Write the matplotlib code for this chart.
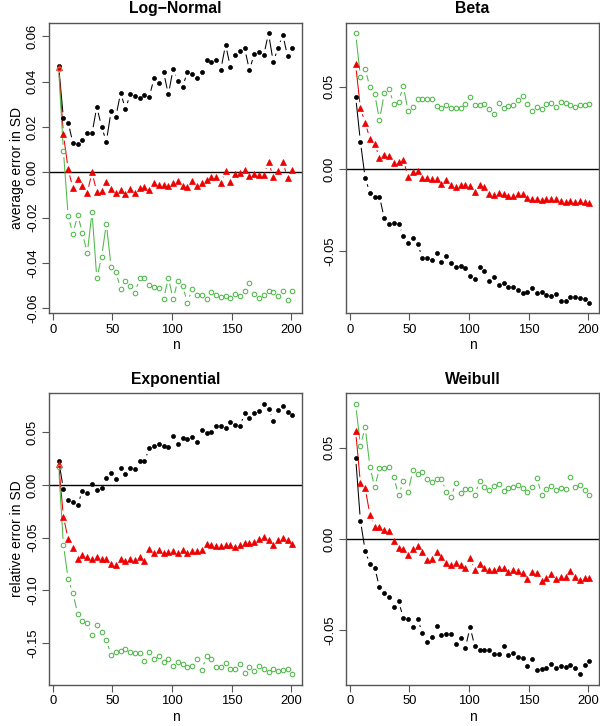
import numpy as np
import matplotlib
matplotlib.use("Agg")
import matplotlib.pyplot as plt

n = list(range(5, 202, 4))

titles = ["Log\u2212Normal", "Beta", "Exponential", "Weibull"]

ln_black = [0.0468, 0.0238, 0.0219, 0.0128, 0.0125, 0.0142, 0.0172, 0.0172, 0.0289, 0.0201,
            0.0135, 0.0270, 0.0245, 0.0351, 0.0279, 0.0343, 0.0337, 0.0329, 0.0340, 0.0333,
            0.0414, 0.0392, 0.0442, 0.0343, 0.0455, 0.0402, 0.0377, 0.0443, 0.0433, 0.0417,
            0.0442, 0.0494, 0.0487, 0.0494, 0.0452, 0.0563, 0.0465, 0.0516, 0.0536, 0.0546,
            0.0450, 0.0521, 0.0531, 0.0516, 0.0612, 0.0487, 0.0549, 0.0606, 0.0512, 0.0546]
ln_red = [0.0465, 0.0167, 0.0013, -0.0070, -0.0029, -0.0060, -0.0090, 0.0000, -0.0087, -0.0084,
          -0.0044, -0.0072, -0.0092, -0.0079, -0.0097, -0.0075, -0.0092, -0.0067, -0.0063, -0.0079,
          -0.0045, -0.0057, -0.0057, -0.0059, -0.0048, -0.0038, -0.0060, -0.0063, -0.0038, -0.0059,
          -0.0045, -0.0032, -0.0019, -0.0019, -0.0048, 0.0006, -0.0041, -0.0007, -0.0004, 0.0010,
          -0.0016, -0.0007, -0.0010, -0.0010, 0.0044, -0.0019, 0.0006, 0.0044, -0.0023, 0.0010]
ln_green = [0.0455, 0.0094, -0.0194, -0.0271, -0.0188, -0.0269, -0.0357, -0.0175, -0.0467, -0.0373,
            -0.0227, -0.0417, -0.0439, -0.0514, -0.0478, -0.0499, -0.0531, -0.0467, -0.0467, -0.0496,
            -0.0506, -0.0512, -0.0559, -0.0464, -0.0559, -0.0477, -0.0500, -0.0574, -0.0514, -0.0539,
            -0.0539, -0.0559, -0.0528, -0.0539, -0.0550, -0.0547, -0.0552, -0.0536, -0.0543, -0.0525,
            -0.0489, -0.0536, -0.0556, -0.0541, -0.0525, -0.0528, -0.0543, -0.0521, -0.0564, -0.0522]

be_black = [0.0440, 0.0166, -0.0057, -0.0144, -0.0168, -0.0168, -0.0300, -0.0335, -0.0331, -0.0335,
            -0.0408, -0.0448, -0.0418, -0.0458, -0.0540, -0.0540, -0.0554, -0.0509, -0.0564, -0.0529,
            -0.0570, -0.0596, -0.0588, -0.0602, -0.0651, -0.0669, -0.0598, -0.0623, -0.0679, -0.0655,
            -0.0706, -0.0692, -0.0716, -0.0720, -0.0736, -0.0756, -0.0750, -0.0722, -0.0756, -0.0746,
            -0.0769, -0.0771, -0.0758, -0.0801, -0.0803, -0.0777, -0.0777, -0.0783, -0.0791, -0.0813]
be_red = [0.0637, 0.0369, 0.0282, 0.0183, 0.0150, 0.0069, 0.0085, 0.0081, 0.0039, 0.0043,
          0.0053, -0.0047, -0.0016, -0.0012, -0.0057, -0.0055, -0.0061, -0.0061, -0.0093, -0.0067,
          -0.0097, -0.0110, -0.0099, -0.0099, -0.0101, -0.0138, -0.0099, -0.0110, -0.0154, -0.0156,
          -0.0144, -0.0154, -0.0162, -0.0162, -0.0154, -0.0150, -0.0176, -0.0183, -0.0185, -0.0189,
          -0.0185, -0.0183, -0.0185, -0.0193, -0.0199, -0.0193, -0.0199, -0.0195, -0.0199, -0.0209]
be_green = [0.0825, 0.0562, 0.0608, 0.0497, 0.0456, 0.0298, 0.0460, 0.0485, 0.0395, 0.0410,
            0.0505, 0.0351, 0.0377, 0.0426, 0.0424, 0.0424, 0.0424, 0.0383, 0.0373, 0.0387,
            0.0369, 0.0373, 0.0373, 0.0393, 0.0436, 0.0387, 0.0389, 0.0395, 0.0363, 0.0333,
            0.0400, 0.0373, 0.0383, 0.0387, 0.0420, 0.0446, 0.0395, 0.0355, 0.0379, 0.0363,
            0.0395, 0.0400, 0.0379, 0.0410, 0.0400, 0.0387, 0.0375, 0.0389, 0.0389, 0.0393]

ex_black = [0.0231, -0.0038, -0.0146, -0.0165, -0.0187, -0.0054, -0.0073, 0.0006, -0.0051, -0.0028,
            0.0066, 0.0111, 0.0057, 0.0158, 0.0104, 0.0158, 0.0152, 0.0225, 0.0225, 0.0348,
            0.0370, 0.0386, 0.0370, 0.0358, 0.0459, 0.0383, 0.0449, 0.0437, 0.0453, 0.0411,
            0.0522, 0.0491, 0.0506, 0.0557, 0.0557, 0.0544, 0.0601, 0.0570, 0.0554, 0.0680,
            0.0636, 0.0680, 0.0696, 0.0766, 0.0722, 0.0608, 0.0706, 0.0744, 0.0690, 0.0665]
ex_red = [0.0199, -0.0301, -0.0516, -0.0595, -0.0706, -0.0665, -0.0687, -0.0706, -0.0680, -0.0706,
          -0.0699, -0.0747, -0.0756, -0.0699, -0.0718, -0.0706, -0.0712, -0.0680, -0.0722, -0.0611,
          -0.0642, -0.0617, -0.0649, -0.0639, -0.0630, -0.0649, -0.0620, -0.0642, -0.0627, -0.0623,
          -0.0617, -0.0563, -0.0567, -0.0579, -0.0579, -0.0570, -0.0570, -0.0586, -0.0573, -0.0548,
          -0.0548, -0.0544, -0.0510, -0.0491, -0.0525, -0.0567, -0.0525, -0.0503, -0.0525, -0.0563]
ex_green = [0.0165, -0.0570, -0.0893, -0.1029, -0.1225, -0.1288, -0.1307, -0.1424, -0.1329, -0.1393,
            -0.1472, -0.1614, -0.1583, -0.1573, -0.1554, -0.1583, -0.1592, -0.1592, -0.1668, -0.1589,
            -0.1655, -0.1620, -0.1677, -0.1652, -0.1719, -0.1677, -0.1700, -0.1725, -0.1715, -0.1655,
            -0.1757, -0.1624, -0.1649, -0.1725, -0.1725, -0.1687, -0.1744, -0.1744, -0.1703, -0.1779,
            -0.1731, -0.1766, -0.1719, -0.1744, -0.1772, -0.1744, -0.1763, -0.1757, -0.1744, -0.1795]

we_black = [0.0446, 0.0101, -0.0064, -0.0139, -0.0158, -0.0264, -0.0295, -0.0319, -0.0374, -0.0341,
            -0.0433, -0.0440, -0.0484, -0.0440, -0.0514, -0.0567, -0.0539, -0.0479, -0.0528, -0.0521,
            -0.0521, -0.0578, -0.0545, -0.0595, -0.0484, -0.0589, -0.0606, -0.0607, -0.0606, -0.0631,
            -0.0631, -0.0587, -0.0637, -0.0624, -0.0646, -0.0651, -0.0694, -0.0657, -0.0716, -0.0710,
            -0.0708, -0.0686, -0.0706, -0.0697, -0.0699, -0.0692, -0.0706, -0.0741, -0.0690, -0.0668]
we_red = [0.0593, 0.0306, 0.0279, 0.0132, 0.0066, 0.0066, 0.0050, 0.0044, -0.0013, -0.0050,
          -0.0057, -0.0088, -0.0053, -0.0040, -0.0073, -0.0116, -0.0112, -0.0073, -0.0099, -0.0130,
          -0.0143, -0.0130, -0.0143, -0.0158, -0.0105, -0.0172, -0.0139, -0.0161, -0.0169, -0.0169,
          -0.0161, -0.0158, -0.0178, -0.0167, -0.0174, -0.0184, -0.0217, -0.0182, -0.0184, -0.0229,
          -0.0215, -0.0193, -0.0217, -0.0206, -0.0209, -0.0174, -0.0209, -0.0222, -0.0213, -0.0213]
we_green = [0.0740, 0.0512, 0.0613, 0.0396, 0.0283, 0.0389, 0.0389, 0.0396, 0.0339, 0.0240,
            0.0316, 0.0259, 0.0376, 0.0354, 0.0365, 0.0332, 0.0312, 0.0330, 0.0330, 0.0257,
            0.0228, 0.0310, 0.0253, 0.0275, 0.0272, 0.0242, 0.0319, 0.0284, 0.0270, 0.0290,
            0.0303, 0.0264, 0.0279, 0.0284, 0.0294, 0.0281, 0.0259, 0.0286, 0.0336, 0.0244,
            0.0272, 0.0290, 0.0270, 0.0281, 0.0275, 0.0338, 0.0286, 0.0294, 0.0270, 0.0240]

yticks = [[-0.06, -0.04, -0.02, 0.00, 0.02, 0.04, 0.06],
          [-0.05, 0.00, 0.05],
          [-0.15, -0.10, -0.05, 0.00, 0.05],
          [-0.05, 0.00, 0.05]]
ylabels = ["average error in SD", "", "relative error in SD", ""]
xticks = [0, 50, 100, 150, 200]

panels = [(ln_black, ln_red, ln_green), (be_black, be_red, be_green),
          (ex_black, ex_red, ex_green), (we_black, we_red, we_green)]

plt.rcParams['font.family'] = ['Liberation Sans', 'DejaVu Sans']

W, H = 600, 726
fig = plt.figure(figsize=(W / 100, H / 100), dpi=100)

# axes boxes in pixels: left, top, right, bottom
boxes = [(49.3, 22.7, 301.7, 313.3), (346.3, 22.7, 598.7, 313.3),
         (49.3, 393.3, 301.7, 685.0), (346.3, 393.3, 598.7, 685.0)]

BLACK = "#000000"
RED = "#EE0000"
GREEN = "#4DB848"
FRAME = "#555555"
GAP = 6.2  # pixel gap between line and point (R type="b")


def gapped_line(ax, x, y, color):
    pts = ax.transData.transform(np.column_stack([x, y]))
    inv = ax.transData.inverted()
    for i in range(len(pts) - 1):
        p0, p1 = pts[i], pts[i + 1]
        d = p1 - p0
        L = np.hypot(*d)
        if L <= 2 * GAP + 0.5:
            continue
        u = d / L
        a = inv.transform(p0 + u * GAP)
        b = inv.transform(p1 - u * GAP)
        ax.plot([a[0], b[0]], [a[1], b[1]], color=color, lw=0.75, solid_capstyle="butt")


for k, (l, t, r, b) in enumerate(boxes):
    ax = fig.add_axes([l / W, (H - b) / H, (r - l) / W, (b - t) / H])
    blk, red, grn = panels[k]
    allv = np.array(blk + red + grn)
    lo, hi = allv.min(), allv.max()
    pad = 0.04 * (hi - lo)
    ax.set_ylim(lo - pad, hi + pad)
    xpad = 0.04 * (n[-1] - n[0])
    ax.set_xlim(n[0] - xpad, n[-1] + xpad)
    ax.set_autoscale_on(False)

    ax.axhline(0, color="black", lw=1.0, zorder=1)
    gapped_line(ax, n, blk, BLACK)
    gapped_line(ax, n, red, RED)
    gapped_line(ax, n, grn, GREEN)
    ax.plot(n, blk, ls="none", marker="o", ms=2.9, color=BLACK, mec=BLACK, mew=0.5, zorder=3)
    ax.plot(n, red, ls="none", marker="^", ms=3.7, color=RED, mec=RED, mew=0.5, zorder=3)
    ax.plot(n, grn, ls="none", marker="o", ms=3.3, mfc="none", mec=GREEN, mew=0.75, zorder=3)

    for s in ax.spines.values():
        s.set_color(FRAME)
        s.set_linewidth(1.0)
    ax.set_xticks(xticks)
    ax.set_xticklabels([str(v) for v in xticks])
    ax.set_yticks(yticks[k])
    ax.set_yticklabels(["%.2f" % v for v in yticks[k]], rotation=90, va="center")
    ax.tick_params(axis="both", length=5, width=0.8, color=FRAME, labelsize=9.4,
                   labelcolor="black", pad=2.5)
    ax.set_xlabel("n", fontsize=10, labelpad=2)
    if ylabels[k]:
        ax.set_ylabel(ylabels[k], fontsize=10, labelpad=2)
    ax.set_title(titles[k], fontsize=11.3, fontweight="bold", pad=7)

fig.savefig("out.png", dpi=100)
